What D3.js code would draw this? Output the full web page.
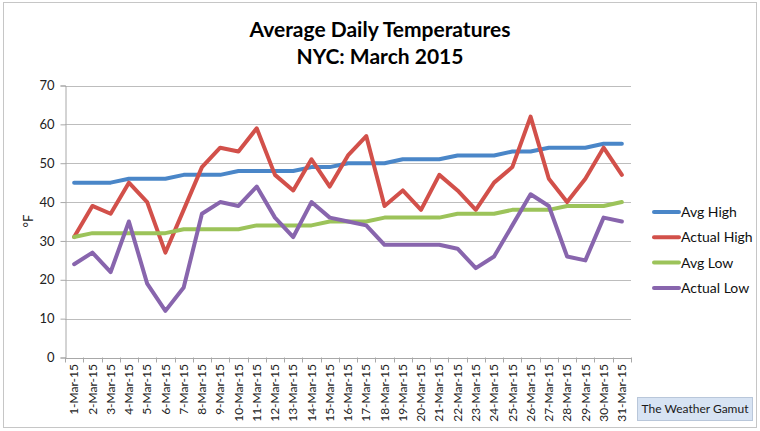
<!DOCTYPE html>
<html>
<head>
<meta charset="utf-8">
<script src="https://cdn.jsdelivr.net/npm/d3@7"></script>
<style>
  body { margin: 0; background: #fff; }
  svg { display: block; font-family: Lato, "Open Sans", sans-serif; }
</style>
</head>
<body>
<svg id="chart" width="760" height="431"></svg>
<script>
// data ---------------------------------------------------------------
var days = d3.range(1, 32).map(d => d + "-Mar-15");
var avgHigh    = [45,45,45,46,46,46,47,47,47,48,48,48,48,49,49,50,50,50,51,51,51,52,52,52,53,53,54,54,54,55,55];
var actualHigh = [31,39,37,45,40,27,38,49,54,53,59,47,43,51,44,52,57,39,43,38,47,43,38,45,49,62,46,40,46,54,47];
var avgLow     = [31,32,32,32,32,32,33,33,33,33,34,34,34,34,35,35,35,36,36,36,36,37,37,37,38,38,38,39,39,39,40];
var actualLow  = [24,27,22,35,19,12,18,37,40,39,44,36,31,40,36,35,34,29,29,29,29,28,23,26,34,42,39,26,25,36,35];
var seriesNames = ["Avg High", "Actual High", "Avg Low", "Actual Low"];
var seriesColors = ["#4a86c8", "#d2504a", "#9cc35a", "#8865ad"];
var yTicks = [0, 10, 20, 30, 40, 50, 60, 70];

var series = [avgHigh, actualHigh, avgLow, actualLow];

var svg = d3.select("#chart");
var plot = { left: 65, right: 631, top: 85.5, bottom: 357.5 };

// chart frame
svg.append("rect")
  .attr("x", 3.5).attr("y", 2.5)
  .attr("width", 753).attr("height", 425)
  .attr("fill", "#fff")
  .attr("stroke", "#c6c6c6");

// title
var title = svg.append("text")
  .attr("text-anchor", "middle")
  .attr("font-weight", "bold")
  .attr("font-size", 21)
  .attr("fill", "#000");
title.append("tspan").attr("x", 380).attr("y", 37).text("Average Daily Temperatures");
title.append("tspan").attr("x", 380).attr("y", 64).text("NYC: March 2015");

// scales
var x = d3.scaleBand().domain(days).range([plot.left, plot.right]);
var y = d3.scaleLinear().domain([0, 70]).range([plot.bottom, plot.top]);

// gridlines
svg.append("g")
  .selectAll("line")
  .data(yTicks.slice(1))
  .join("line")
  .attr("x1", plot.left).attr("x2", plot.right)
  .attr("y1", d => Math.round(y(d)) + 0.5).attr("y2", d => Math.round(y(d)) + 0.5)
  .attr("stroke", "#bdbdbd");

// y axis
var yAxis = svg.append("g")
  .attr("transform", `translate(${plot.left + 0.5},0)`)
  .call(d3.axisLeft(y).tickValues(yTicks).tickSize(5).tickPadding(6));
yAxis.select(".domain").attr("stroke", "#a8a8a8");
yAxis.selectAll(".tick line").attr("stroke", "#a8a8a8");
yAxis.selectAll(".tick text")
  .attr("font-size", 13)
  .attr("fill", "#222")
  .attr("font-family", "Lato, sans-serif");

svg.append("text")
  .attr("transform", "translate(33,221) rotate(-90)")
  .attr("text-anchor", "middle")
  .attr("font-size", 13)
  .attr("fill", "#222")
  .text("°F");

// x axis
var xAxis = svg.append("g")
  .attr("transform", `translate(0,${plot.bottom + 0.5})`)
  .call(d3.axisBottom(x).tickSize(0).tickPadding(6));
xAxis.select(".domain").attr("stroke", "#a8a8a8");
xAxis.selectAll(".tick text")
  .attr("font-size", 12)
  .attr("fill", "#222")
  .attr("font-family", "Lato, sans-serif")
  .attr("text-anchor", "end")
  .attr("transform", "rotate(-90)")
  .attr("x", -6)
  .attr("y", 0)
  .attr("dy", "0.35em");

// category separators on x axis
svg.append("g")
  .selectAll("line")
  .data(days.concat(["end"]))
  .join("line")
  .attr("x1", (d, i) => Math.round(plot.left + i * x.bandwidth()) + 0.5)
  .attr("x2", (d, i) => Math.round(plot.left + i * x.bandwidth()) + 0.5)
  .attr("y1", plot.bottom)
  .attr("y2", plot.bottom + 5)
  .attr("stroke", "#a8a8a8");

// lines
var line = d3.line()
  .x((d, i) => x(days[i]) + x.bandwidth() / 2)
  .y(d => y(d));

svg.append("g")
  .selectAll("path")
  .data(series)
  .join("path")
  .attr("d", line)
  .attr("fill", "none")
  .attr("stroke", (d, i) => seriesColors[i])
  .attr("stroke-width", 4)
  .attr("stroke-linejoin", "round")
  .attr("stroke-linecap", "round");

// legend
var legend = svg.append("g")
  .selectAll("g")
  .data(seriesNames)
  .join("g")
  .attr("transform", (d, i) => `translate(654,${212 + i * 25.3})`);

legend.append("line")
  .attr("x1", 0).attr("x2", 25)
  .attr("stroke", (d, i) => seriesColors[i])
  .attr("stroke-width", 4)
  .attr("stroke-linecap", "round");

legend.append("text")
  .attr("x", 27)
  .attr("dy", "0.35em")
  .attr("font-size", 14)
  .attr("fill", "#111")
  .text(d => d);

// credit box
svg.append("rect")
  .attr("x", 637.5).attr("y", 397.5)
  .attr("width", 115).attr("height", 23)
  .attr("fill", "#d7e3f3")
  .attr("stroke", "#b9c7da");

svg.append("text")
  .attr("x", 695).attr("y", 409)
  .attr("dy", "0.35em")
  .attr("text-anchor", "middle")
  .attr("font-size", 12)
  .attr("fill", "#1a1a1a")
  .text("The Weather Gamut");
</script>
</body>
</html>
